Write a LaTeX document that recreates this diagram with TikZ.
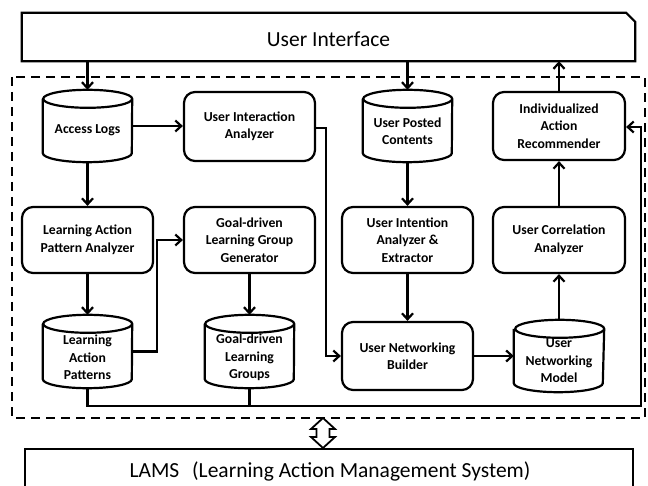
\documentclass[tikz,border=0pt]{standalone}
\usepackage{fontspec}
\setmainfont{Carlito}
\usetikzlibrary{arrows.meta,calc}
\begin{document}
\begin{tikzpicture}[x=1pt,y=1pt,
  lw/.style={line width=2.2pt},
  box/.style={draw, lw, rounded corners=11pt, align=center, inner sep=2pt,
    font=\bfseries\fontsize{13.7}{17.5}\selectfont},
  cylbody/.style={inner sep=0pt, minimum width=89pt},
  txt/.style={align=center, inner sep=0pt, font=\bfseries\fontsize{13.7}{17.5}\selectfont},
  conn/.style={lw, -{Straight Barb[length=6pt,width=11pt]}},
  plainline/.style={lw},
  dashbox/.style={line width=2.2pt, dash pattern=on 9pt off 6pt},
  bigtext/.style={font=\fontsize{21.5}{24}\selectfont},
]
\useasboundingbox (0,0) rectangle (648,485);

% dashed frame
\coordinate (dtl) at (12,408);
\coordinate (dbr) at (645,67);
\draw[dashbox] (dtl) rectangle (dbr);

% user interface
\node[minimum width=613pt, minimum height=48pt, inner sep=0pt] (ui) at (328.5,448) {};
\node[bigtext, inner sep=0pt] (uit) at ([yshift=-2.5pt]ui.center) {User Interface};
\draw[lw] (ui.north west) -- ([xshift=-9pt]ui.north east) -- ([yshift=-9pt]ui.north east)
  -- (ui.south east) -- (ui.south west) -- cycle;

% row 1
\node[cylbody, minimum height=72pt] (al) at (87.5,359) {};
\node[txt] (alt) at ([yshift=-4pt]al.center) {Access Logs};
\node[box, minimum width=131pt, minimum height=69pt] (uia) at (249.5,358.5) {User Interaction\\Analyzer};
\node[cylbody, minimum height=72pt] (upc) at (407.5,359) {};
\node[txt] (upct) at ([yshift=-5pt]upc.center) {User Posted\\Contents};
\node[box, minimum width=132pt, minimum height=68pt] (iar) at (559,359) {Individualized\\Action\\Recommender};

% row 2
\node[box, minimum width=131pt, minimum height=66pt] (lapa) at (87.5,245) {Learning Action\\Pattern Analyzer};
\node[box, minimum width=131pt, minimum height=66pt] (glgg) at (249.5,245) {Goal-driven\\Learning Group\\Generator};
\node[box, minimum width=131pt, minimum height=66pt] (uiae) at (407.5,245) {User Intention\\Analyzer \&\\Extractor};
\node[box, minimum width=132pt, minimum height=66pt] (uca) at (559,245) {User Correlation\\Analyzer};

% row 3
\node[cylbody, minimum height=73pt] (lap) at (87.5,133.5) {};
\node[txt] (lapt) at ([yshift=-6pt]lap.center) {Learning\\Action\\Patterns};
\node[cylbody, minimum height=73pt] (glg) at (249.5,133.5) {};
\node[txt] (glgt) at ([yshift=-6pt]glg.center) {Goal-driven\\Learning\\Groups};
\node[box, minimum width=131pt, minimum height=68pt] (unb) at (407.5,129) {User Networking\\Builder};
\node[cylbody, minimum width=90pt, minimum height=72pt] (unm) at (559,129) {};
\node[txt] (unmt) at ([yshift=-5pt]unm.center) {User\\Networking\\Model};

% cylinder outlines
\foreach \n in {al,upc,lap,glg,unm}{
  \draw[lw] ($(\n.north west)+(0,-9)$) -- ($(\n.south west)+(0,9)$)
    arc[start angle=180,end angle=360,x radius=44.5,y radius=9]
    -- ($(\n.north east)+(0,-9)$)
    arc[start angle=0,end angle=360,x radius=44.5,y radius=9];
}

% LAMS
\node[draw, lw, minimum width=608pt, minimum height=46pt, anchor=north, inner sep=0pt] (lams) at (329,37) {};
\node[bigtext, inner sep=0pt] (lamst) at (330,13.5) {LAMS\hspace{0.6em}(Learning Action Management System)};

% connectors
\draw[conn] (ui.south -| al.north) -- (al.north);
\draw[conn] (ui.south -| upc.north) -- (upc.north);
\draw[conn] (iar.north) -- (iar.north |- ui.south);
\draw[conn] (al.east) -- (al.east -| uia.west);
\draw[conn] (al.south) -- (lapa.north);
\draw[conn] ([yshift=-1.5pt]uia.east) -- ++(10,0) |- (unb.west);
\draw[conn] (lapa.south) -- (lap.north);
\draw[conn] (lap.east) -- (157,133.5) |- (glgg.west);
\draw[conn] (glgg.south) -- (glg.north);
\draw[conn] (upc.south) -- (uiae.north);
\draw[conn] (uiae.south) -- (unb.north);
\draw[conn] (unb.east) -- (unb.east -| unm.west);
\draw[conn] (unm.north) -- (uca.south);
\draw[conn] (uca.north) -- (iar.south);

\coordinate (bl) at (87.5,79);
\coordinate (br) at (641,79);
\coordinate (tr) at (641,358);
\draw[conn] (lap.south) -- (bl) -- (br) -- (tr) -- (tr -| iar.east);
\draw[plainline] (glg.south) -- (glg.south |- bl);

% double arrow between frame and LAMS
\draw[line width=1.8pt, fill=white] (323,67) -- (335,56) -- (329.5,56) -- (329.5,48) -- (335,48)
  -- (323,37) -- (311,48) -- (316.5,48) -- (316.5,56) -- (311,56) -- cycle;
\end{tikzpicture}
\end{document}
